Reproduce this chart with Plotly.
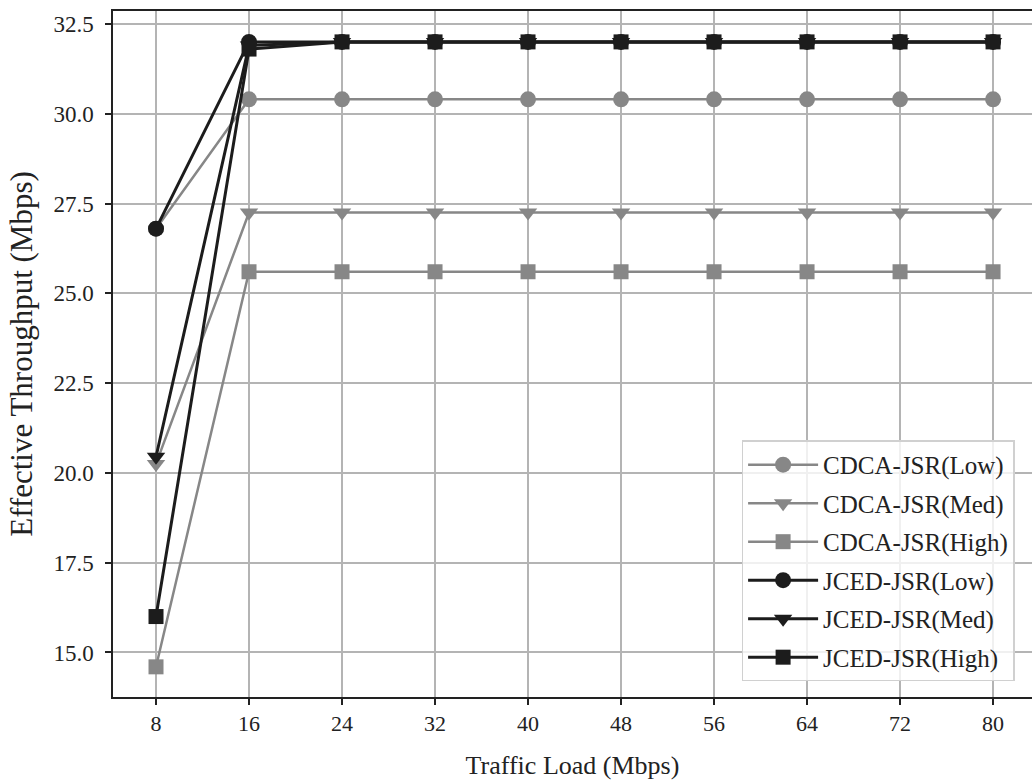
import plotly.graph_objects as go

traffic_load = [8, 16, 24, 32, 40, 48, 56, 64, 72, 80]
cdca_low = [26.8, 30.4, 30.4, 30.4, 30.4, 30.4, 30.4, 30.4, 30.4, 30.4]
cdca_med = [20.25, 27.25, 27.25, 27.25, 27.25, 27.25, 27.25, 27.25, 27.25, 27.25]
cdca_high = [14.6, 25.6, 25.6, 25.6, 25.6, 25.6, 25.6, 25.6, 25.6, 25.6]
jced_low = [26.8, 32.0, 32.0, 32.0, 32.0, 32.0, 32.0, 32.0, 32.0, 32.0]
jced_med = [20.45, 31.9, 32.0, 32.0, 32.0, 32.0, 32.0, 32.0, 32.0, 32.0]
jced_high = [16.0, 31.8, 32.0, 32.0, 32.0, 32.0, 32.0, 32.0, 32.0, 32.0]
x_ticks = [8, 16, 24, 32, 40, 48, 56, 64, 72, 80]
y_ticks = [15.0, 17.5, 20.0, 22.5, 25.0, 27.5, 30.0, 32.5]

GREY = "#878787"
BLACK = "#1c1c1c"

series = [
    ("CDCA-JSR(Low)", cdca_low, GREY, "circle", 2.5),
    ("CDCA-JSR(Med)", cdca_med, GREY, "triangle-down", 2.5),
    ("CDCA-JSR(High)", cdca_high, GREY, "square", 2.5),
    ("JCED-JSR(Low)", jced_low, BLACK, "circle", 3),
    ("JCED-JSR(Med)", jced_med, BLACK, "triangle-down", 3),
    ("JCED-JSR(High)", jced_high, BLACK, "square", 3),
]

fig = go.Figure()
for i, (name, vals, col, sym, lw) in enumerate(series):
    fig.add_trace(go.Scatter(
        x=traffic_load, y=vals, name=name, mode="lines+markers",
        legendgroup=f"g{i}",
        line=dict(color=col, width=lw),
        marker=dict(symbol=sym, size=16 if sym != "square" else 15, color=col,
                    line=dict(width=0)),
    ))

axis_common = dict(
    showgrid=True, gridcolor="#b4b4b4", gridwidth=1.5,
    showline=True, linecolor="#222222", linewidth=1.5, mirror=True,
    ticks="outside", ticklen=6, tickwidth=1.5, tickcolor="#222222",
    zeroline=False, automargin=False,
)

fig.update_layout(
    width=1032, height=780,
    margin=dict(l=113, r=0, t=11, b=83),
    paper_bgcolor="white", plot_bgcolor="white",
    font=dict(family="Liberation Serif", size=23, color="#222222"),
    xaxis=dict(range=[4.30, 83.35], tickvals=x_ticks,
               tickfont=dict(family="Liberation Serif", size=22, color="#222222"),
               title=dict(text="Traffic Load (Mbps)", standoff=24,
                          font=dict(family="Liberation Serif", size=26)),
               **axis_common),
    yaxis=dict(range=[13.76, 32.86], tickvals=y_ticks, tickformat=".1f",
               ticklabelstandoff=7,
               tickfont=dict(family="Liberation Serif", size=23, color="#222222"),
               title=dict(text="Effective Throughput (Mbps)", standoff=12,
                          font=dict(family="Liberation Serif", size=31)),
               **axis_common),
    legend=dict(
        x=0.684, y=0.374, xanchor="left", yanchor="top",
        bgcolor="rgba(255,255,255,0.8)", bordercolor="#d0d0d0", borderwidth=1.5,
        font=dict(family="Liberation Serif", size=25, color="#222222"),
        tracegroupgap=3, itemwidth=70,
    ),
    showlegend=True,
)

fig.write_html("out.html", config={"displayModeBar": False},
               post_script="document.body.style.margin='0';document.body.style.overflow='hidden';")
